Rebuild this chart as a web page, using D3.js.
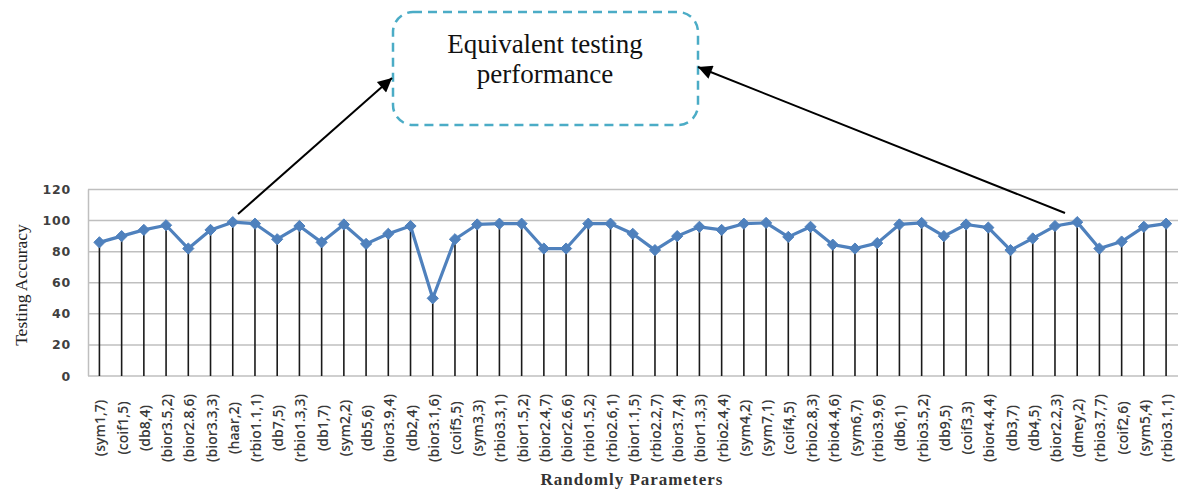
<!DOCTYPE html>
<html>
<head>
<meta charset="utf-8">
<script src="https://cdn.jsdelivr.net/npm/d3@7"></script>
<style>
    body { margin: 0; background: #fff; }
</style>
</head>
<body>
<div id="chart"></div>
<script>
// categories (wavelet, level)
const categories = [
    '(sym1,7)', '(coif1,5)', '(db8,4)', '(bior3.5,2)', '(bior2.8,6)', '(bior3.3,3)', '(haar,2)',
    '(rbio1.1,1)', '(db7,5)', '(rbio1.3,3)', '(db1,7)', '(sym2,2)', '(db5,6)', '(bior3.9,4)',
    '(db2,4)', '(bior3.1,6)', '(coif5,5)', '(sym3,3)', '(rbio3.3,1)', '(bior1.5,2)', '(bior2.4,7)',
    '(bior2.6,6)', '(rbio1.5,2)', '(rbio2.6,1)', '(bior1.1,5)', '(rbio2.2,7)', '(bior3.7,4)', '(bior1.3,3)',
    '(rbio2.4,4)', '(sym4,2)', '(sym7,1)', '(coif4,5)', '(rbio2.8,3)', '(rbio4.4,6)', '(sym6,7)',
    '(rbio3.9,6)', '(db6,1)', '(rbio3.5,2)', '(db9,5)', '(coif3,3)', '(bior4.4,4)', '(db3,7)',
    '(db4,5)', '(bior2.2,3)', '(dmey,2)', '(rbio3.7,7)', '(coif2,6)', '(sym5,4)', '(rbio3.1,1)'
];

// testing accuracy per parameter
const accuracy = [
    86, 90, 94, 97, 82, 94, 99,
    98, 88, 96.5, 86, 97.5, 85, 91.5,
    96.5, 50, 88, 97.5, 98, 98, 82,
    82, 98, 98, 91.5, 81, 90, 96,
    94, 98, 98.5, 89.5, 96, 84.5, 82,
    85.5, 97.5, 98.5, 90, 97.5, 95.5, 81,
    88.5, 96.5, 99, 82, 86.5, 96, 98
];

const yTicks = [0, 20, 40, 60, 80, 100, 120];
const noteLines = ['Equivalent testing', 'performance'];

const W = 1178, H = 490;
const svg = d3.select('#chart')
    .append('svg')
    .attr('width', W)
    .attr('height', H);

const x = d3.scaleBand()
    .domain(categories)
    .range([88.3, 1177.2]);

const y = d3.scaleLinear()
    .domain([0, 120])
    .range([376, 189.5]);

// grid lines
svg.append('g')
    .selectAll('line')
    .data(yTicks)
    .join('line')
    .attr('x1', 88)
    .attr('x2', W)
    .attr('y1', d => y(d))
    .attr('y2', d => y(d))
    .attr('stroke', '#bfbfbf')
    .attr('stroke-width', 1.5);

// left axis line
svg.append('line')
    .attr('x1', 88.5).attr('x2', 88.5)
    .attr('y1', y(120)).attr('y2', y(0))
    .attr('stroke', '#bfbfbf')
    .attr('stroke-width', 1.5);

// y tick labels
svg.append('g')
    .selectAll('text')
    .data(yTicks)
    .join('text')
    .attr('x', 71)
    .attr('y', d => y(d))
    .attr('dy', '0.36em')
    .attr('text-anchor', 'end')
    .attr('font-family', 'DejaVu Sans, sans-serif')
    .attr('font-weight', 'bold')
    .attr('font-size', '12.5px')
    .attr('letter-spacing', '0.8px')
    .attr('fill', '#404040')
    .text(d => d);

const cx = d => x(d) + x.bandwidth() / 2;

// drop lines
svg.append('g')
    .selectAll('line')
    .data(categories)
    .join('line')
    .attr('x1', d => cx(d))
    .attr('x2', d => cx(d))
    .attr('y1', (d, i) => y(accuracy[i]))
    .attr('y2', y(0))
    .attr('stroke', '#1a1a1a')
    .attr('stroke-width', 1.6);

// series line
const line = d3.line()
    .x((d, i) => cx(categories[i]))
    .y(d => y(d));

svg.append('path')
    .datum(accuracy)
    .attr('d', line)
    .attr('fill', 'none')
    .attr('stroke', '#4f81bd')
    .attr('stroke-width', 3.2)
    .attr('stroke-linejoin', 'round');

// diamond markers
svg.append('g')
    .selectAll('path')
    .data(accuracy)
    .join('path')
    .attr('d', d3.symbol(d3.symbolDiamond2, 80))
    .attr('transform', (d, i) => `translate(${cx(categories[i])},${y(d)})`)
    .attr('fill', '#4f81bd')
    .attr('stroke', '#4f81bd')
    .attr('stroke-width', 1);

// x tick labels
svg.append('g')
    .selectAll('text')
    .data(categories)
    .join('text')
    .attr('transform', d => `translate(${cx(d) + 1},428) rotate(-90)`)
    .attr('dy', '0.36em')
    .attr('text-anchor', 'middle')
    .attr('font-family', 'Open Sans, sans-serif')
    .attr('font-weight', 600)
    .attr('font-size', '14px')
    .attr('fill', '#3a3a3a')
    .text(d => d);

// axis titles
svg.append('text')
    .attr('transform', 'translate(21,285) rotate(-90)')
    .attr('dy', '0.35em')
    .attr('text-anchor', 'middle')
    .attr('font-family', 'Liberation Serif, serif')
    .attr('font-size', '17.5px')
    .attr('fill', '#222')
    .text('Testing Accuracy');

svg.append('text')
    .attr('x', 632)
    .attr('y', 485)
    .attr('text-anchor', 'middle')
    .attr('font-family', 'Liberation Serif, serif')
    .attr('font-weight', 'bold')
    .attr('font-size', '17px')
    .attr('letter-spacing', '1px')
    .attr('fill', '#333')
    .text('Randomly Parameters');

// annotation box
svg.append('rect')
    .attr('x', 393)
    .attr('y', 12)
    .attr('width', 305)
    .attr('height', 113)
    .attr('rx', 20)
    .attr('fill', 'none')
    .attr('stroke', '#4bacc6')
    .attr('stroke-width', 2.5)
    .attr('stroke-dasharray', '9,6');

svg.append('text')
    .attr('text-anchor', 'middle')
    .attr('font-family', 'Liberation Serif, serif')
    .attr('font-size', '27px')
    .attr('fill', '#111')
    .selectAll('tspan')
    .data(noteLines)
    .join('tspan')
    .attr('x', 545)
    .attr('y', (d, i) => 53 + i * 30)
    .text(d => d);

// arrows
svg.append('defs')
    .append('marker')
    .attr('id', 'arrow')
    .attr('viewBox', '0 0 10 10')
    .attr('refX', 10)
    .attr('refY', 5)
    .attr('markerWidth', 8)
    .attr('markerHeight', 7)
    .attr('markerUnits', 'strokeWidth')
    .attr('orient', 'auto')
    .append('path')
    .attr('d', 'M0,0L10,5L0,10Z')
    .attr('fill', '#000');

const arrows = [
    [238, 214, 392, 78],
    [1065, 213, 698, 67]
];
svg.append('g')
    .selectAll('line')
    .data(arrows)
    .join('line')
    .attr('x1', d => d[0])
    .attr('y1', d => d[1])
    .attr('x2', d => d[2])
    .attr('y2', d => d[3])
    .attr('stroke', '#000')
    .attr('stroke-width', 2)
    .attr('marker-end', 'url(#arrow)');
</script>
</body>
</html>
